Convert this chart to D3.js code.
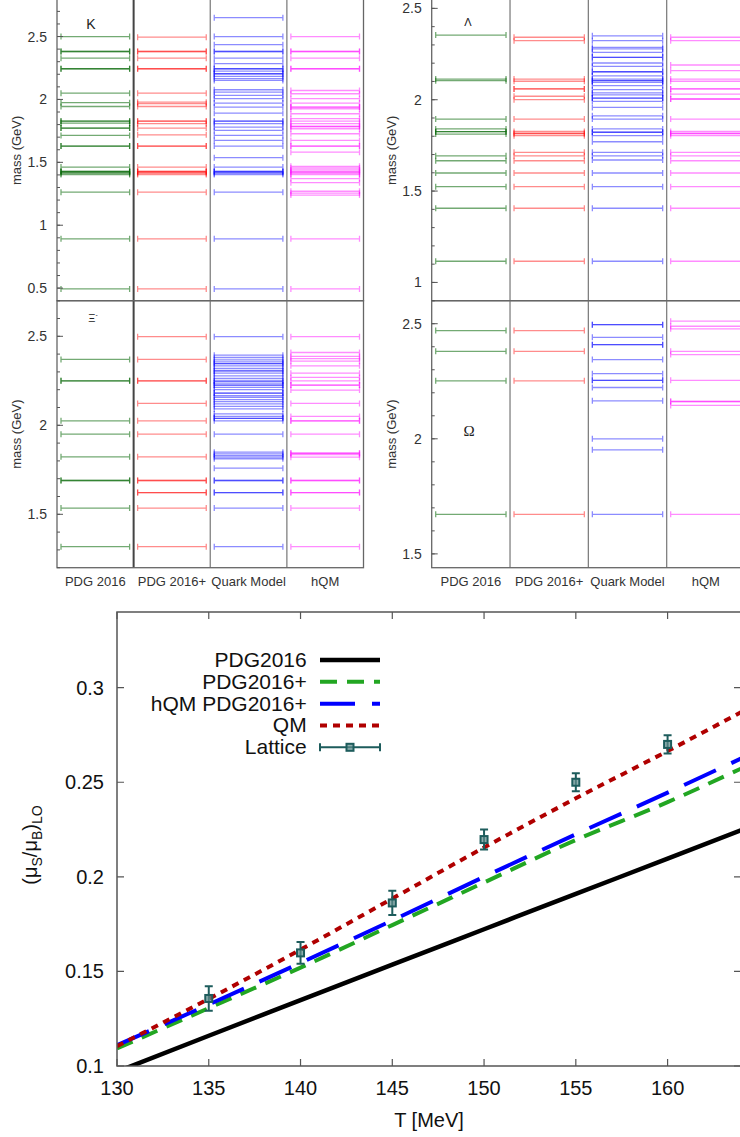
<!DOCTYPE html>
<html><head><meta charset="utf-8">
<script src="https://cdn.jsdelivr.net/npm/d3@7"></script>
<style>
body{margin:0;background:#fff;}
svg{display:block;font-family:"Liberation Sans",Arial,sans-serif;}
</style>
</head><body>
<svg id="c" width="740" height="1137"></svg>
<script>
// ---------- DATA ----------
const columns = ["PDG 2016", "PDG 2016+", "Quark Model", "hQM"];

// Kaon spectrum (GeV)
const kaonPDG = [0.494, 0.892, 1.263, 1.403, 1.412, 1.421, 1.427, 1.427, 1.462, 1.629, 1.629, 1.714, 1.772, 1.772, 1.812, 1.827, 1.827, 1.944, 1.974, 2.050, 2.244, 2.244, 2.328, 2.381, 2.381, 2.500];
const kaonPDGplus = [0.494, 0.892, 1.263, 1.403, 1.412, 1.421, 1.427, 1.427, 1.462, 1.629, 1.629, 1.719, 1.772, 1.807, 1.827, 1.827, 1.944, 1.966, 1.978, 2.050, 2.244, 2.244, 2.328, 2.381, 2.381, 2.495];
const kaonQM = [0.494, 0.892, 1.263, 1.403, 1.412, 1.421, 1.427, 1.427, 1.462, 1.537, 1.629, 1.674, 1.714, 1.754, 1.780, 1.807, 1.827, 1.827, 1.891, 1.939, 1.971, 2.006, 2.032, 2.058, 2.077, 2.151, 2.165, 2.183, 2.204, 2.204, 2.225, 2.244, 2.244, 2.284, 2.328, 2.381, 2.381, 2.435, 2.500, 2.650];
const kaonHQM = [0.494, 0.892, 1.240, 1.255, 1.270, 1.338, 1.370, 1.403, 1.412, 1.421, 1.427, 1.440, 1.455, 1.468, 1.581, 1.629, 1.629, 1.674, 1.727, 1.767, 1.785, 1.785, 1.807, 1.827, 1.847, 1.886, 1.926, 1.939, 1.939, 1.971, 2.006, 2.045, 2.071, 2.244, 2.244, 2.328, 2.381, 2.381, 2.500];

// Lambda spectrum (GeV)
const lambdaPDG = [1.116, 1.406, 1.524, 1.599, 1.666, 1.693, 1.812, 1.825, 1.825, 1.840, 1.894, 2.104, 2.113, 2.354];
const lambdaPDGplus = [1.116, 1.406, 1.524, 1.599, 1.666, 1.693, 1.712, 1.803, 1.815, 1.815, 1.826, 1.894, 2.000, 2.019, 2.059, 2.059, 2.101, 2.113, 2.323, 2.342];
const lambdaQM = [1.116, 1.406, 1.524, 1.599, 1.670, 1.693, 1.712, 1.770, 1.803, 1.822, 1.822, 1.840, 1.894, 1.912, 1.958, 1.991, 2.009, 2.009, 2.027, 2.037, 2.055, 2.077, 2.095, 2.104, 2.104, 2.113, 2.131, 2.153, 2.153, 2.183, 2.201, 2.232, 2.232, 2.259, 2.278, 2.287, 2.323, 2.350];
const lambdaHQM = [1.116, 1.406, 1.524, 1.599, 1.666, 1.693, 1.712, 1.803, 1.815, 1.815, 1.826, 1.894, 2.004, 2.004, 2.031, 2.059, 2.059, 2.101, 2.113, 2.159, 2.190, 2.323, 2.342];

// Xi spectrum (GeV)
const xiPDG = [1.318, 1.535, 1.690, 1.690, 1.823, 1.950, 2.025, 2.250, 2.250, 2.370];
const xiPDGplus = [1.318, 1.535, 1.622, 1.622, 1.690, 1.690, 1.823, 1.950, 2.025, 2.123, 2.250, 2.250, 2.370, 2.498];
const xiQM = [1.318, 1.535, 1.622, 1.622, 1.690, 1.690, 1.759, 1.812, 1.821, 1.830, 1.840, 1.849, 1.950, 2.025, 2.039, 2.039, 2.050, 2.064, 2.092, 2.106, 2.120, 2.133, 2.144, 2.157, 2.166, 2.181, 2.181, 2.200, 2.213, 2.226, 2.226, 2.237, 2.248, 2.248, 2.263, 2.278, 2.293, 2.306, 2.306, 2.319, 2.334, 2.347, 2.347, 2.356, 2.368, 2.381, 2.394, 2.498];
const xiHQM = [1.318, 1.535, 1.622, 1.622, 1.690, 1.690, 1.821, 1.835, 1.843, 1.843, 1.950, 2.025, 2.025, 2.050, 2.123, 2.198, 2.226, 2.226, 2.250, 2.269, 2.293, 2.334, 2.360, 2.375, 2.387, 2.409, 2.498];

// Omega spectrum (GeV)
const omegaPDG = [1.672, 2.252, 2.380, 2.470];
const omegaPDGplus = [1.672, 2.252, 2.380, 2.470];
const omegaQM = [1.672, 1.952, 2.000, 2.165, 2.223, 2.254, 2.254, 2.283, 2.344, 2.409, 2.409, 2.441, 2.496, 2.496];
const omegaHQM = [1.672, 2.145, 2.162, 2.162, 2.254, 2.366, 2.380, 2.478, 2.489, 2.511];

// Bottom chart: (mu_S/mu_B)_LO vs T
const temperatures = [130, 135, 140, 145, 150, 155, 160, 164];
const ratioPDG2016 = [0.0970, 0.1160, 0.1348, 0.1536, 0.1723, 0.1910, 0.2096, 0.2246];
const ratioPDG2016plus = [0.1093, 0.1306, 0.1520, 0.1745, 0.1970, 0.2195, 0.2395, 0.2572];
const ratioHQM = [0.1110, 0.1325, 0.1545, 0.1770, 0.2000, 0.2225, 0.2445, 0.2625];
const ratioQM = [0.1105, 0.1355, 0.1615, 0.1885, 0.2155, 0.2415, 0.2665, 0.2870];
const latticeT = [135, 140, 145, 150, 155, 160];
const latticeValue = [0.1357, 0.1598, 0.1862, 0.2197, 0.2500, 0.2700];
const latticeError = [0.0065, 0.0058, 0.0064, 0.0053, 0.0048, 0.0048];
const xTicks = [130, 135, 140, 145, 150, 155, 160];
const yTicks = [0.1, 0.15, 0.2, 0.25, 0.3];
const legendNames = ["PDG2016", "PDG2016+", "hQM PDG2016+", "QM", "Lattice"];

// ---------- DRAW ----------
const svg = d3.select("#c");
const levelColors = ["#006400", "#ff0000", "#0000ff", "#ff00ff"];

function spectrumPanel(o) {
  const y = d3.scaleLinear().domain(o.domain).range([o.bottom, o.top]);
  const x = d3.scaleBand().domain(columns).range([o.left, o.right]);
  const g = svg.append("g");
  const inset = 4;
  columns.forEach((c, i) => {
    const xa = x(c) + inset, xb = x(c) + x.bandwidth() - inset;
    g.append("g").selectAll("path").data(o.sets[i]).join("path")
      .attr("d", m => {
        const yy = y(m);
        return `M${xa},${yy}H${xb}M${xa},${yy - 3}V${yy + 3}M${xb},${yy - 3}V${yy + 3}`;
      })
      .attr("fill", "none")
      .attr("stroke", levelColors[i])
      .attr("stroke-width", 1.3)
      .attr("stroke-opacity", i === 0 ? 0.55 : 0.45);
  });
  columns.slice(1).forEach((c, i) => {
    g.append("line").attr("x1", x(c)).attr("x2", x(c))
      .attr("y1", o.top).attr("y2", o.bottom)
      .attr("stroke", (o.darkFirst && i === 0) ? "#444" : "#808080")
      .attr("stroke-width", (o.darkFirst && i === 0) ? 2 : 1.3);
  });
  g.append("rect").attr("x", o.left).attr("y", o.top)
    .attr("width", o.right - o.left).attr("height", o.bottom - o.top)
    .attr("fill", "none").attr("stroke", "#666").attr("stroke-width", 1.3);
  const minors = d3.range(Math.ceil(o.domain[0] * 10 - 1e-6), Math.floor(o.domain[1] * 10 + 1e-6) + 1).map(v => v / 10);
  g.append("g").selectAll("line").data(minors).join("line")
    .attr("x1", o.left).attr("x2", o.left + 3)
    .attr("y1", d => y(d)).attr("y2", d => y(d))
    .attr("stroke", "#555").attr("stroke-width", 1);
  g.append("g").selectAll("line").data(o.majors).join("line")
    .attr("x1", o.left).attr("x2", o.left + 6)
    .attr("y1", d => y(d)).attr("y2", d => y(d))
    .attr("stroke", "#555").attr("stroke-width", 1);
  g.append("g").selectAll("text").data(o.majors).join("text")
    .attr("x", o.left - 10).attr("y", d => y(d) + 5)
    .attr("text-anchor", "end").attr("font-size", 14).attr("fill", "#333")
    .text(d => d3.format("")(d));
  const yc = (Math.max(o.top, 0) + o.bottom) / 2;
  g.append("text").attr("transform", `translate(${o.left - 36},${yc}) rotate(-90)`)
    .attr("text-anchor", "middle").attr("font-size", 13).attr("fill", "#333")
    .text("mass (GeV)");
  if (o.showX) {
    g.append("g").selectAll("text").data(columns).join("text")
      .attr("x", c => x(c) + x.bandwidth() / 2).attr("y", o.bottom + 18)
      .attr("text-anchor", "middle").attr("font-size", 13).attr("fill", "#333")
      .text(c => c);
  }
  const t = g.append("text").attr("x", o.titleX).attr("y", o.titleY)
    .attr("text-anchor", "middle").attr("font-size", o.titleSize).attr("fill", "#222");
  if (o.titleFont) t.attr("font-family", o.titleFont);
  t.text(o.title);
  if (o.titleSup) {
    t.append("tspan").attr("font-size", o.titleSize * 0.6).attr("dy", -5).text(o.titleSup);
  }
}

spectrumPanel({left: 57, right: 363.5, top: -1.2, bottom: 300.7, domain: [0.4, 2.8],
  majors: [0.5, 1, 1.5, 2, 2.5], sets: [kaonPDG, kaonPDGplus, kaonQM, kaonHQM],
  title: "K", titleX: 91, titleY: 29, titleSize: 14, darkFirst: true, showX: false});
spectrumPanel({left: 431.7, right: 745, top: -9.9, bottom: 300.7, domain: [0.9, 2.6],
  majors: [1, 1.5, 2, 2.5], sets: [lambdaPDG, lambdaPDGplus, lambdaQM, lambdaHQM],
  title: "Λ", titleX: 468, titleY: 26, titleSize: 11, darkFirst: false, showX: false});
spectrumPanel({left: 57, right: 363.5, top: 300.7, bottom: 567.7, domain: [1.2, 2.7],
  majors: [1.5, 2, 2.5], sets: [xiPDG, xiPDGplus, xiQM, xiHQM],
  title: "Ξ", titleSup: "-", titleX: 93, titleY: 322, titleSize: 11, darkFirst: true, showX: true});
spectrumPanel({left: 431.7, right: 745, top: 300.7, bottom: 567.7, domain: [1.44, 2.6],
  majors: [1.5, 2, 2.5], sets: [omegaPDG, omegaPDGplus, omegaQM, omegaHQM],
  title: "Ω", titleX: 469, titleY: 436, titleSize: 15, titleFont: "'Liberation Serif','DejaVu Serif',serif", darkFirst: false, showX: true});

// ---------- bottom chart ----------
const L = 117, R = 741, T = 612, B = 1066;
const xT = d3.scaleLinear().domain([130, 164]).range([L, R]);
const yV = d3.scaleLinear().domain([0.1, 0.34]).range([B, T]);
const bg = svg.append("g");
svg.append("defs").append("clipPath").attr("id", "plotclip")
  .append("rect").attr("x", L).attr("y", T).attr("width", R - L).attr("height", B - T);

bg.append("g").selectAll("path").data(xTicks).join("path")
  .attr("d", d => `M${xT(d)},${B}v-7M${xT(d)},${T}v7`)
  .attr("stroke", "#555").attr("stroke-width", 1.2);
bg.append("g").selectAll("path").data(yTicks).join("path")
  .attr("d", d => `M${L},${yV(d)}h7M${R},${yV(d)}h-7`)
  .attr("stroke", "#555").attr("stroke-width", 1.2);
bg.append("g").selectAll("text").data(xTicks).join("text")
  .attr("x", d => xT(d)).attr("y", B + 29).attr("text-anchor", "middle")
  .attr("font-size", 20).attr("fill", "#111").text(d => d);
bg.append("g").selectAll("text").data(yTicks).join("text")
  .attr("x", L - 13).attr("y", d => yV(d) + 7).attr("text-anchor", "end")
  .attr("font-size", 20).attr("fill", "#111").text(d => d3.format("")(d));

bg.append("text").attr("x", (L + R) / 2).attr("y", B + 61).attr("text-anchor", "middle")
  .attr("font-size", 20).attr("fill", "#111").text("T [MeV]");
const yl = bg.append("text").attr("transform", `translate(37,${(T + B) / 2 + 6}) rotate(-90)`)
  .attr("text-anchor", "middle").attr("font-size", 20).attr("fill", "#111");
yl.append("tspan").text("(μ");
yl.append("tspan").attr("font-size", 14).attr("dy", 5).text("S");
yl.append("tspan").attr("dy", -5).text("/μ");
yl.append("tspan").attr("font-size", 14).attr("dy", 5).text("B");
yl.append("tspan").attr("dy", -5).text(")");
yl.append("tspan").attr("font-size", 14).attr("dy", 5).text("LO");

const series = [
  {vals: ratioPDG2016, color: "#000000", dash: null, w: 4.5},
  {vals: ratioPDG2016plus, color: "#22a622", dash: "17,10", w: 4},
  {vals: ratioHQM, color: "#0000ff", dash: "35,17", w: 4},
  {vals: ratioQM, color: "#b00000", dash: "7,6", w: 4}
];
const curves = bg.append("g").attr("clip-path", "url(#plotclip)");
const lineGen = d3.line().x(d => xT(d[0])).y(d => yV(d[1])).curve(d3.curveMonotoneX);
series.forEach(s => {
  curves.append("path").datum(temperatures.map((t, i) => [t, s.vals[i]]))
    .attr("d", lineGen).attr("fill", "none").attr("stroke", s.color)
    .attr("stroke-width", s.w).attr("stroke-dasharray", s.dash);
});
const teal = "#1d5c5c";
const lat = curves.append("g").selectAll("g").data(latticeT.map((t, i) => ({t, v: latticeValue[i], e: latticeError[i]}))).join("g");
lat.append("path").attr("d", d => {
  const x = xT(d.t), y1 = yV(d.v - d.e), y2 = yV(d.v + d.e);
  return `M${x},${y1}V${y2}M${x - 4},${y1}h8M${x - 4},${y2}h8`;
}).attr("stroke", teal).attr("stroke-width", 2).attr("fill", "none");
lat.append("rect").attr("x", d => xT(d.t) - 3.5).attr("y", d => yV(d.v) - 3.5)
  .attr("width", 7).attr("height", 7).attr("fill", "#5f8c8c").attr("fill-opacity", 0.7)
  .attr("stroke", teal).attr("stroke-width", 2);

bg.append("rect").attr("x", L).attr("y", T).attr("width", R - L).attr("height", B - T)
  .attr("fill", "none").attr("stroke", "#555").attr("stroke-width", 1.5);

const legY = d3.scalePoint().domain(legendNames).range([660, 747.3]);
const lg = bg.append("g");
lg.selectAll("text").data(legendNames).join("text")
  .attr("x", 306.7).attr("y", d => legY(d) + 7).attr("text-anchor", "end")
  .attr("font-size", 21).attr("fill", "#111").text(d => d);
series.forEach((s, i) => {
  lg.append("line").attr("x1", 320).attr("x2", 380)
    .attr("y1", legY(legendNames[i])).attr("y2", legY(legendNames[i]))
    .attr("stroke", s.color).attr("stroke-width", s.w).attr("stroke-dasharray", s.dash);
});
const ly = legY("Lattice");
lg.append("path").attr("d", `M320,${ly}H380M320,${ly - 4}v8M380,${ly - 4}v8`)
  .attr("stroke", teal).attr("stroke-width", 2).attr("fill", "none");
lg.append("rect").attr("x", 346.5).attr("y", ly - 3.5).attr("width", 7).attr("height", 7)
  .attr("fill", "#5f8c8c").attr("fill-opacity", 0.7).attr("stroke", teal).attr("stroke-width", 2);
</script>
</body></html>
